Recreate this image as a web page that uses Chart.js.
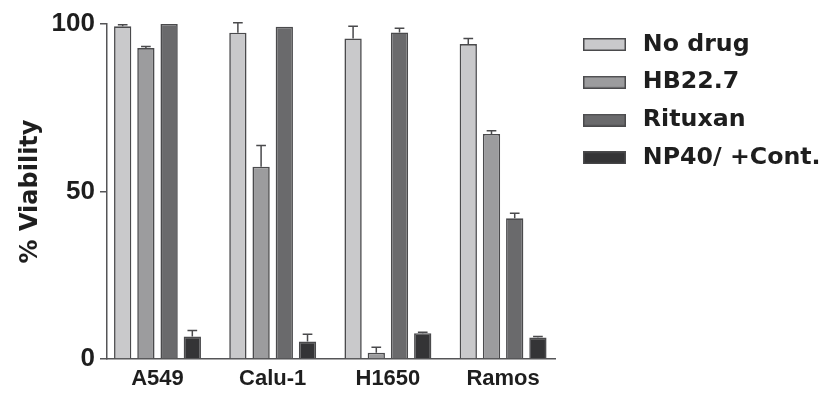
<!DOCTYPE html>
<html>
<head>
<meta charset="utf-8">
<script src="https://cdn.jsdelivr.net/npm/chart.js@4"></script>
<style>
  html, body { margin: 0; padding: 0; background: #ffffff; }
  #wrap { width: 823px; height: 393px; }
</style>
</head>
<body>
<div id="wrap"><canvas id="viability" width="823" height="393"></canvas></div>
<script>
// Cell lines on the x axis and treatment series
const cellLines = ['A549', 'Calu-1', 'H1650', 'Ramos'];
const seriesNames = ['No drug', 'HB22.7', 'Rituxan', 'NP40/ +Cont.'];

// % viability (mean) and upper error (SEM) per cell line
const noDrug     = [99.3, 97.4, 95.7, 94.0];
const noDrugErr  = [0.5, 3.0, 3.6, 1.7];
const hb227      = [92.8, 57.4, 1.9, 67.2];
const hb227Err   = [0.5, 6.3, 1.6, 0.9];
const rituxan    = [100, 99.2, 97.5, 42.0];
const rituxanErr = [0, 0, 1.2, 1.5];
const np40       = [6.7, 5.2, 7.7, 6.4];
const np40Err    = [1.8, 2.2, 0.3, 0.3];

const yTicks = [0, 50, 100];

const fills   = ['#c9c9cb', '#9c9c9e', '#6a6a6c', '#343436'];
const stroke  = '#4a4a4c';
const inkColor = '#1e1e1e';

const seriesValues = [noDrug, hb227, rituxan, np40];
const seriesErrors = [noDrugErr, hb227Err, rituxanErr, np40Err];

// Legend swatch: outlined rectangle with a little trailing space before the text
function swatch(fill) {
  const c = document.createElement('canvas');
  c.width = 48; c.height = 13;
  const g = c.getContext('2d');
  g.fillStyle = fill;
  g.fillRect(0, 0, 43, 13);
  g.strokeStyle = stroke;
  g.lineWidth = 1.5;
  g.strokeRect(0.75, 0.75, 41.5, 11.5);
  return c;
}

// Upward error bars with a short cap
const errorBars = {
  id: 'errorBars',
  afterDatasetsDraw(chart, args, opts) {
    const { ctx } = chart;
    const yScale = chart.scales.y;
    ctx.save();
    ctx.strokeStyle = opts.color;
    ctx.lineWidth = opts.width;
    chart.data.datasets.forEach((ds, di) => {
      const meta = chart.getDatasetMeta(di);
      meta.data.forEach((bar, i) => {
        const err = ds.errors[i];
        if (!err) return;
        const top = yScale.getPixelForValue(ds.data[i].y + err);
        const half = bar.width * 0.28;
        ctx.beginPath();
        ctx.moveTo(bar.x, bar.y);
        ctx.lineTo(bar.x, top);
        ctx.moveTo(bar.x - half, top);
        ctx.lineTo(bar.x + half, top);
        ctx.stroke();
      });
    });
    ctx.restore();
  }
};

// Put the legend block to the right of the plot
const legendPlacement = {
  id: 'legendPlacement',
  afterLayout(chart, args, opts) {
    const lg = chart.legend;
    if (!lg) return;
    const w = lg.width, h = lg.height;
    lg.left = opts.left; lg.right = opts.left + w;
    lg.top = opts.top; lg.bottom = opts.top + h;
  }
};

const datasets = seriesNames.map((name, s) => ({
  label: name,
  data: seriesValues[s].map((v, i) => ({ x: i + 1, y: v })),
  errors: seriesErrors[s],
  backgroundColor: fills[s],
  borderColor: stroke,
  borderWidth: 1.6,
  borderSkipped: 'bottom',
  categoryPercentage: 0.806,
  barPercentage: 0.745
}));

new Chart(document.getElementById('viability'), {
  type: 'bar',
  data: { datasets },
  plugins: [errorBars, legendPlacement],
  options: {
    responsive: false,
    devicePixelRatio: 1,
    animation: false,
    layout: { padding: { top: 24, right: 268, bottom: 0, left: 0 } },
    scales: {
      x: {
        type: 'linear',
        offset: false,
        min: 0.5616,
        max: 4.4505,
        afterBuildTicks(scale) {
          scale.ticks = cellLines.map((_, i) => ({ value: i + 1 }));
        },
        afterFit(scale) { scale.height = 34; },
        ticks: {
          callback: (v) => cellLines[Math.round(v) - 1],
          font: { family: 'Liberation Sans', weight: 'bold', size: 22 },
          color: inkColor,
          padding: 7,
          maxRotation: 0,
          autoSkip: false
        },
        grid: { display: false, drawTicks: false, offset: false },
        border: { display: true, color: '#555557', width: 1.5 }
      },
      y: {
        min: 0,
        max: 100,
        afterBuildTicks(scale) {
          scale.ticks = yTicks.map(v => ({ value: v }));
        },
        afterFit(scale) { scale.width = 107; },
        ticks: {
          font: { family: 'Liberation Sans', weight: 'bold', size: 26 },
          color: inkColor,
          padding: 5
        },
        grid: {
          drawOnChartArea: false,
          drawTicks: true,
          tickLength: 7,
          color: '#555557',
          lineWidth: 1.5
        },
        border: { display: true, color: '#555557', width: 1.5 },
        title: {
          display: true,
          text: '% Viability',
          font: { family: 'DejaVu Sans', weight: 'bold', size: 24 },
          color: inkColor,
          padding: { top: 16, bottom: 0 }
        }
      }
    },
    plugins: {
      tooltip: { enabled: false },
      errorBars: { color: '#4a4a4c', width: 1.5 },
      legendPlacement: { left: 568.9, top: 18.55 },
      legend: {
        position: 'chartArea',
        align: 'start',
        labels: {
          usePointStyle: true,
          pointStyleWidth: 48,
          padding: 14.1,
          color: inkColor,
          font: { family: 'DejaVu Sans', weight: 'bold', size: 23.7 },
          generateLabels(chart) {
            return chart.data.datasets.map((ds, i) => ({
              text: ds.label,
              pointStyle: swatch(ds.backgroundColor),
              fillStyle: ds.backgroundColor,
              strokeStyle: stroke,
              lineWidth: 0,
              hidden: false,
              datasetIndex: i,
              fontColor: inkColor
            }));
          }
        }
      }
    }
  }
});
</script>
</body>
</html>
